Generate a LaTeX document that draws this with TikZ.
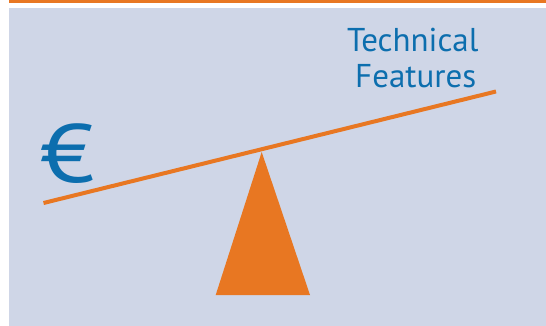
\documentclass[tikz,border=0pt]{standalone}
\usepackage{fontspec}
\setmainfont{PT Sans}
\definecolor{orangeC}{HTML}{E87722}
\definecolor{panelC}{HTML}{CFD6E7}
\definecolor{blueC}{HTML}{0C6EAE}
\begin{document}
\begin{tikzpicture}[x=1pt,y=-1pt,
  lbl/.style={text=blueC,inner sep=0pt,anchor=base west}]
\useasboundingbox (0,0) rectangle (546,326);
\fill[white] (0,0) rectangle (546,326);
\fill[orangeC] (9,0) rectangle (546,2.8);
\fill[panelC] (9,8) rectangle (546,326);
\coordinate (L) at (43.5,203);
\coordinate (R) at (496,91.5);
\coordinate (apex) at (261.7,152);
\coordinate (bl) at (215.7,295);
\coordinate (br) at (310,295);
\fill[orangeC] (apex) -- (br) -- (bl) -- cycle;
\draw[orangeC,line width=4] (L) -- (R);
\node[lbl,font=\fontsize{33}{33}\selectfont] (t1) at (347,52) {Technical};
\node[lbl,font=\fontsize{33}{33}\selectfont] (t2) at (355,88) {Features};
\node[lbl,font=\fontsize{70}{70}\selectfont] (eur) at (40,182) {\scalebox{1.42}[1.18]{€}};
\end{tikzpicture}
\end{document}
